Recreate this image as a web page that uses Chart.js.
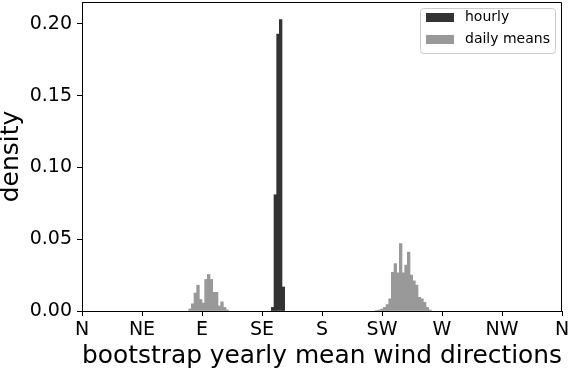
<!DOCTYPE html>
<html><head><meta charset="utf-8">
<script src="https://cdn.jsdelivr.net/npm/chart.js@4.4.0/dist/chart.umd.min.js"></script>
<style>html,body{margin:0;padding:0;background:#fff;} #wrap{width:568px;height:370px;position:relative;}</style>
</head><body><div id="wrap"><canvas id="c" width="568" height="370"></canvas></div>
<script>
// ---- data ----
const directionTicks = [0, 45, 90, 135, 180, 225, 270, 315, 360];
const directionLabels = ['N', 'NE', 'E', 'SE', 'S', 'SW', 'W', 'NW', 'N'];
const binWidth = 2;
const hourlyBinStart = [142, 144, 146, 148, 150];
const hourlyDensity  = [0.0025, 0.081, 0.193, 0.203, 0.0167];
const dailyBinStart = [80, 82, 84, 86, 88, 90, 92, 94, 96, 98, 100, 102, 104, 106, 108,
                       220, 222, 224, 226, 228, 230, 232, 234, 236, 238, 240, 242, 244, 246, 248, 250, 252, 254, 256, 258, 260];
const dailyDensity  = [0.0014, 0.005, 0.0125, 0.018, 0.008, 0.0055, 0.022, 0.0255, 0.022, 0.013, 0.013, 0.0035, 0.0064, 0.0025, 0.0007,
                       0.0004, 0.0007, 0.0014, 0.0025, 0.0045, 0.0085, 0.027, 0.033, 0.0266, 0.047, 0.0266, 0.032, 0.041, 0.025, 0.021, 0.018, 0.0095, 0.0085, 0.006, 0.0025, 0.0007];
const yTickStep = 0.05;
const yMax = 0.2153;
const seriesNames = ['hourly', 'daily means'];
const seriesColors = ['#333333', '#999999'];

const toPoints = (starts, vals) => starts.map((s, i) => ({ x: s + binWidth / 2, y: vals[i] }));
const FONT = 'DejaVu Sans';

const framePlugin = {
  id: 'frame',
  afterDatasetsDraw(chart) {
    const { ctx, chartArea: a } = chart;
    ctx.save();
    ctx.strokeStyle = '#000';
    ctx.lineWidth = 1;
    ctx.beginPath();
    ctx.moveTo(Math.round(a.left) + 0.5, Math.round(a.top) + 0.5);
    ctx.lineTo(Math.round(a.right) - 0.5, Math.round(a.top) + 0.5);
    ctx.lineTo(Math.round(a.right) - 0.5, Math.round(a.bottom) + 0.5);
    ctx.stroke();
    ctx.restore();
  },
  afterDraw(chart) {
    const { ctx } = chart;
    ctx.save();
    const bx = 420.5, by = 8.5, bw = 135, bh = 45, r = 3;
    ctx.beginPath();
    ctx.moveTo(bx + r, by);
    ctx.arcTo(bx + bw, by, bx + bw, by + bh, r);
    ctx.arcTo(bx + bw, by + bh, bx, by + bh, r);
    ctx.arcTo(bx, by + bh, bx, by, r);
    ctx.arcTo(bx, by, bx + bw, by, r);
    ctx.closePath();
    ctx.fillStyle = 'rgba(255,255,255,0.8)';
    ctx.fill();
    ctx.strokeStyle = '#cccccc';
    ctx.lineWidth = 1;
    ctx.stroke();
    ctx.font = '14px "' + FONT + '"';
    ctx.textBaseline = 'middle';
    ctx.textAlign = 'left';
    const rows = [17.5, 39.5];
    seriesNames.forEach((name, i) => {
      ctx.fillStyle = seriesColors[i];
      ctx.fillRect(426, rows[i] - 4.5, 28, 9);
      ctx.fillStyle = '#000';
      ctx.fillText(name, 465, rows[i]);
    });
    ctx.restore();
  }
};

new Chart(document.getElementById('c'), {
  type: 'bar',
  data: {
    datasets: [
      { label: seriesNames[0], data: toPoints(hourlyBinStart, hourlyDensity), backgroundColor: seriesColors[0], borderWidth: 0 },
      { label: seriesNames[1], data: toPoints(dailyBinStart, dailyDensity), backgroundColor: seriesColors[1], borderWidth: 0 }
    ]
  },
  options: {
    responsive: false,
    devicePixelRatio: 1,
    animation: false,
    grouped: false,
    barPercentage: 1,
    categoryPercentage: 1,
    layout: { padding: { left: 0, right: 6, top: 2, bottom: 0 } },
    plugins: { legend: { display: false }, tooltip: { enabled: false } },
    scales: {
      x: {
        type: 'linear',
        min: 0, max: 360,
        offset: false,
        afterBuildTicks: s => { s.ticks = directionTicks.map(v => ({ value: v })); },
        afterFit: s => { s.height = 59; s.paddingLeft = 0; s.paddingRight = 0; },
        ticks: {
          callback: v => directionLabels[directionTicks.indexOf(v)],
          autoSkip: false, maxRotation: 0, minRotation: 0,
          font: { family: FONT, size: 19 }, color: '#000', padding: 3
        },
        grid: { display: true, offset: false, drawOnChartArea: false, drawTicks: true, tickLength: 5, tickColor: '#000', tickWidth: 1 },
        border: { display: true, color: '#000', width: 1 },
        title: { display: true, text: 'bootstrap yearly mean wind directions', font: { family: FONT, size: 25 }, color: '#000', padding: { top: 0, bottom: -1 } }
      },
      y: {
        type: 'linear',
        min: 0, max: yMax,
        afterFit: s => { s.width = 82; s.paddingTop = 0; s.paddingBottom = 0; },
        ticks: {
          stepSize: yTickStep, includeBounds: false,
          callback: v => v.toFixed(2),
          font: { family: FONT, size: 19 }, color: '#000', padding: 5
        },
        grid: { display: true, drawOnChartArea: false, drawTicks: true, tickLength: 5, tickColor: '#000', tickWidth: 1 },
        border: { display: true, color: '#000', width: 1 },
        title: { display: true, text: 'density', font: { family: FONT, size: 25 }, color: '#000', padding: { top: -4, bottom: 0 } }
      }
    }
  },
  plugins: [framePlugin]
});
</script>
</body></html>
